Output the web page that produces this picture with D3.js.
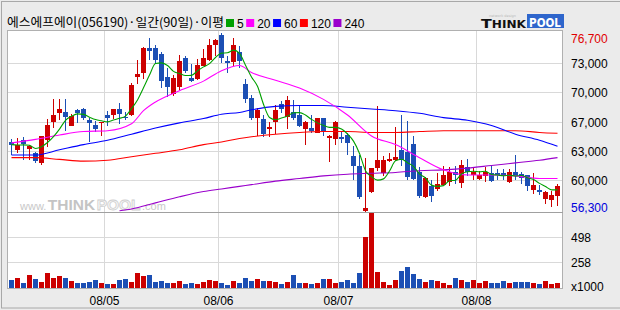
<!DOCTYPE html>
<html>
<head>
<meta charset="utf-8">
<script src="https://cdn.jsdelivr.net/npm/d3@7/dist/d3.min.js"></script>
<style>
body {margin: 0; background: #ebebeb;}
svg {display: block;}
</style>
</head>
<body>
<svg id="chart" width="620" height="310"></svg>
<script>
// daily candles, 90 trading days
const opens = [64200,63200,64400,63400,62900,61800,64500,66500,67500,67700,66100,67900,68000,66700,66200,66400,67300,67300,68000,67100,
  67300,71600,72100,75000,75000,74300,71700,69800,70500,73900,71600,71500,73000,73700,75300,76500,73500,73500,74500,70900,
  69300,67000,66800,65700,66500,68600,67000,67700,67300,65700,65800,65300,67000,64700,64500,64800,65000,62600,61400,56300,
  58400,61200,60600,62100,62100,63300,63000,64000,60800,57900,59100,58800,59300,59700,60800,59500,61300,60400,59900,60300,
  60600,60600,60600,59600,60800,60500,60400,58700,58700,57700,57500,58000];
const highs = [64500,64700,64800,63900,63000,64900,66900,69200,69100,69100,67400,68000,68100,67000,66600,66500,67800,68000,68700,67700,
  71000,73600,75100,76200,75400,74500,72700,71900,74200,74100,73200,73800,74900,76000,76000,76700,74100,76200,75200,71400,
  69600,68100,67300,66500,68400,68900,69500,69000,68400,66600,67300,67000,67000,65000,66600,65500,65200,63700,62700,62400,
  61200,68300,62600,62900,65900,67300,66600,64900,61300,60200,59800,60600,61400,61300,61400,62100,62200,61300,60900,61300,
  61400,61100,61100,61100,62700,60700,60400,60600,59300,58600,58600,59400];
const lows = [62800,63000,62300,62200,61900,61700,63700,65900,66800,65600,66100,66500,66900,64300,65500,65000,66200,67000,66400,66800,
  67300,71000,71600,73700,73300,70500,69500,69600,70300,72300,71200,71500,73000,73600,74200,73400,72300,73000,72800,68800,
  66900,65000,64900,64900,65200,67700,65800,66800,66000,64000,65400,65300,65000,62000,64000,64200,62800,59900,57800,56300,
  58400,61000,60400,62000,62100,61600,59900,59900,57900,57900,57400,58700,59300,59200,59500,59000,60400,60000,59900,59700,
  59700,60000,60000,59600,60000,59500,58700,58300,58200,57200,56800,57000];
const closes = [63900,63800,63900,63700,62000,64900,66200,67300,68000,67100,67200,67600,67000,66400,65700,66500,67000,68000,67400,67000,
  70800,72000,75000,74700,73600,71200,70500,71600,73500,72400,71300,73100,73900,75400,75900,73800,73300,75400,73500,69200,
  67000,67900,65100,65900,67900,68000,69000,67000,66000,66500,65500,67000,65500,64900,66500,64600,64100,61400,57800,56600,
  61200,62100,62100,62300,62500,62100,60100,60000,58000,60100,58000,59400,60400,60800,60400,61600,60700,60700,60400,60800,
  59700,60400,60300,60700,60300,60000,59100,59300,58500,58500,58100,59100];
// volume, x1000 shares
const volumes = [80,100,50,127,87,57,150,97,117,97,70,50,50,60,77,50,37,37,77,87,
  60,150,117,127,63,67,50,50,67,37,50,40,60,77,67,50,27,67,50,97,
  70,87,70,67,57,40,57,127,50,50,40,50,87,87,50,60,77,50,150,504,
  737,160,57,27,77,170,210,137,87,57,77,67,50,27,97,77,60,77,50,67,
  50,50,67,50,57,57,57,50,37,67,37,50];

// moving averages at sample days
const ma20Days = [0,4,8,12,16,20,22,24,28,32,35,38,40,44,48,52,56,60,64,68,72,76,80,84,88,91];
const ma20 = [64100,64500,65000,65400,65500,66300,67800,68800,70100,71200,72400,73000,72200,71300,70400,69100,67300,64900,63900,62400,61000,60400,60400,60300,60000,60000];
const maDays = [0,4,8,12,16,20,24,28,32,35,38,40,44,48,52,56,60,64,68,72,76,80,84,88,91];
const ma60 = [62700,62700,63300,63900,64400,65100,65800,66400,66900,67400,67600,67900,68300,68400,68400,68200,68000,67800,67500,67000,66700,66100,65100,64400,63700];
const ma120 = [62400,62400,62200,62000,62100,62500,62900,63300,63900,64200,64600,64800,65100,65300,65400,65400,65300,65300,65400,65500,65500,65500,65500,65300,65200];
const ma240Days = [18,20,24,28,32,35,38,40,44,48,52,56,60,64,68,72,76,80,84,88,91];
const ma240 = [56300,56500,57200,57900,58500,58800,59100,59300,59700,60000,60300,60500,60600,60700,60900,61000,61200,61500,61800,62100,62400];

const monthDays = [16, 35, 55, 78];
const monthLabels = ["08/05", "08/06", "08/07", "08/08"];
const priceGrid = [73280, 69910, 66540, 63170, 59800];
const priceGridLabels = ["73,000", "70,000", "67,000", "63,000", "60,000"];
const volGrid = [498, 258];
const volGridLabels = ["498", "258"];
const titleText = "에스에프에이(056190)·일간(90일)·이평";
const maNames = ["5", "20", "60", "120", "240"];
const maColors = ["#00a000", "#ff00ff", "#0000ff", "#ff0000", "#9a00cc"];

const upColor = "#cc0000", downColor = "#1c4fb4", gridColor = "#d9d9d9";
let svg = d3.select("#chart");
let plot = {left: 7.5, right: 562.5, top: 30.5, mid: 212.5, bottom: 288.5};

svg.append("rect").attr("x", 1.5).attr("y", 1.5).attr("width", 640).attr("height", 306.5)
    .attr("fill", "#ebebeb").attr("stroke", "#a8a8a8");
svg.append("rect").attr("x", plot.left).attr("y", plot.top)
    .attr("width", plot.right - plot.left).attr("height", plot.bottom - plot.top)
    .attr("fill", "#fff");

let x = d3.scaleBand().domain(d3.range(closes.length)).range([9, 561]);
let y = d3.scaleLinear().domain([56300, 76700]).range([210.7, 33.3]);
let yv = d3.scaleLinear().domain([0, 738]).range([288, 213]);
let cx = i => x(i) + 2.5;

// grid
let grid = svg.append("g").attr("stroke", gridColor).attr("shape-rendering", "crispEdges");
grid.selectAll(".hp").data(priceGrid).enter().append("line")
    .attr("x1", plot.left).attr("x2", plot.right)
    .attr("y1", d => Math.round(y(d)) + 0.5).attr("y2", d => Math.round(y(d)) + 0.5);
grid.selectAll(".hv").data(volGrid).enter().append("line")
    .attr("x1", plot.left).attr("x2", plot.right)
    .attr("y1", d => Math.round(yv(d)) + 0.5).attr("y2", d => Math.round(yv(d)) + 0.5);
grid.selectAll(".vm").data(monthDays).enter().append("line")
    .attr("x1", d => x(d) - 0.5).attr("x2", d => x(d) - 0.5)
    .attr("y1", plot.top).attr("y2", plot.bottom);

// watermark, one text per piece laid side by side
let wmParts = [
    {text: "www.", size: 11, bold: false, fill: "#c8c8c8"},
    {text: "THINK", size: 15.5, bold: true, fill: "#c4c4c4"},
    {text: "POOL", size: 15.5, bold: true, fill: "#f6f6f6"},
    {text: ".com", size: 11, bold: false, fill: "#c8c8c8"}
];
let wmg = svg.append("g").attr("font-family", "'Liberation Sans', Arial, sans-serif");
let wx = 20;
wmParts.forEach(p => {
    let t = wmg.append("text").attr("x", wx).attr("y", 210)
        .attr("font-size", p.size).attr("font-weight", p.bold ? "bold" : "normal")
        .attr("fill", p.fill)
        .attr("stroke", p.text === "POOL" ? "#cfcfcf" : null).attr("stroke-width", 0.8)
        .text(p.text);
    wx = wx + t.node().getComputedTextLength() + 1.5;
});

svg.append("clipPath").attr("id", "pricePane").append("rect")
    .attr("x", plot.left).attr("y", plot.top).attr("width", plot.right - plot.left).attr("height", plot.mid - plot.top);

// candles
let candles = svg.append("g").attr("clip-path", "url(#pricePane)");
let days = d3.range(closes.length);
candles.selectAll("line").data(days).enter().append("line")
    .attr("x1", i => cx(i)).attr("x2", i => cx(i))
    .attr("y1", i => Math.round(y(highs[i]))).attr("y2", i => Math.round(y(lows[i])) + 1)
    .attr("stroke", i => closes[i] >= opens[i] ? upColor : downColor);
candles.selectAll("rect").data(days).enter().append("rect")
    .attr("shape-rendering", "crispEdges")
    .attr("x", i => x(i)).attr("width", x.bandwidth() - 1)
    .attr("y", i => Math.round(y(Math.max(opens[i], closes[i]))))
    .attr("height", i => Math.max(1, Math.round(Math.abs(y(opens[i]) - y(closes[i])))))
    .attr("fill", i => closes[i] >= opens[i] ? upColor : downColor);

// moving average lines
let ma5 = closes.map((c, i) => d3.mean(closes.slice(Math.max(0, i - 4), i + 1)));
let smooth = d3.line().x(d => cx(d[0])).y(d => y(d[1])).curve(d3.curveMonotoneX);
let maSeries = [
    [d3.range(closes.length), ma5, maColors[0]],
    [ma20Days, ma20, maColors[1]],
    [maDays, ma60, maColors[2]],
    [maDays, ma120, maColors[3]],
    [ma240Days, ma240, maColors[4]]
];
let gLines = svg.append("g").attr("clip-path", "url(#pricePane)").attr("fill", "none").attr("stroke-width", 1.1);
maSeries.reverse().forEach(s => {
    gLines.append("path")
        .attr("d", smooth(s[0].map((d, k) => [d, s[1][k]])))
        .attr("stroke", s[2]);
});

// volume bars
svg.append("g").attr("shape-rendering", "crispEdges").selectAll("rect").data(days).enter().append("rect")
    .attr("x", i => x(i)).attr("width", x.bandwidth() - 1)
    .attr("y", i => Math.round(yv(volumes[i])))
    .attr("height", i => 288 - Math.round(yv(volumes[i])))
    .attr("fill", i => closes[i] >= opens[i] ? upColor : downColor);

// frame lines
let frame = svg.append("g").attr("stroke", "#b0b0b0").attr("fill", "none").attr("shape-rendering", "crispEdges");
frame.append("rect").attr("x", plot.left).attr("y", plot.top)
    .attr("width", plot.right - plot.left).attr("height", plot.bottom - plot.top);
frame.append("line").attr("x1", plot.left).attr("x2", plot.right).attr("y1", plot.mid).attr("y2", plot.mid)
    .attr("stroke", "#a0a0a0");

// right axis
let fmt = d3.format(",");
let axisText = svg.append("g").attr("font-family", "'Liberation Sans', Arial, sans-serif").attr("font-size", 12);
axisText.selectAll(".pl").data(priceGrid).enter().append("text")
    .attr("x", 571).attr("y", d => Math.round(y(d)) + 5)
    .text((d, k) => priceGridLabels[k]);
let maxP = d3.max(highs), minP = d3.min(lows);
axisText.append("text").attr("x", 571).attr("y", Math.max(y(maxP), 38) + 4.5).attr("fill", "#e00000").text(fmt(maxP));
axisText.append("text").attr("x", 571).attr("y", Math.min(y(minP), 207) + 4.5).attr("fill", "#0000dd").text(fmt(minP));
axisText.selectAll(".vl").data(volGrid).enter().append("text")
    .attr("x", 571).attr("y", d => Math.round(yv(d)) + 5)
    .text((d, k) => volGridLabels[k]);
axisText.append("text").attr("x", 571).attr("y", 290.5).text("x1000");
axisText.selectAll(".ml").data(monthDays).enter().append("text")
    .attr("x", d => x(d) - 0.5).attr("y", 305).attr("text-anchor", "middle")
    .text((d, k) => monthLabels[k]);

// title and legend
svg.append("text").attr("x", 7).attr("y", 27)
    .attr("font-family", "'Noto Sans CJK KR', sans-serif").attr("font-size", 12.5)
    .attr("textLength", 217).attr("lengthAdjust", "spacingAndGlyphs")
    .text(titleText);
let lx = 226;
maNames.forEach((name, k) => {
    svg.append("rect").attr("x", lx).attr("y", 19).attr("width", 8).attr("height", 8).attr("fill", maColors[k]);
    let t = svg.append("text").attr("x", lx + 11).attr("y", 27.5)
        .attr("font-family", "'Liberation Sans', Arial, sans-serif").attr("font-size", 12).text(name);
    lx = lx + 11 + t.node().getComputedTextLength() + 2.5;
});

// logo
let logo = svg.append("g").attr("font-family", "'DejaVu Sans', sans-serif").attr("font-weight", "bold");
logo.append("text").attr("x", 481).attr("y", 27.5).attr("fill", "#111")
    .attr("textLength", 45).attr("lengthAdjust", "spacingAndGlyphs")
    .html('<tspan font-size="13">T</tspan><tspan font-size="10">HINK</tspan>');
logo.append("rect").attr("x", 527).attr("y", 14).attr("width", 37).attr("height", 14).attr("fill", "#2f66cc");
logo.append("text").attr("x", 529).attr("y", 26.5).attr("fill", "#fff").attr("font-size", 13)
    .attr("textLength", 32).attr("lengthAdjust", "spacingAndGlyphs").text("POOL");
logo.append("text").attr("x", 489).attr("y", 16.5).attr("fill", "#bbb").attr("font-size", 3.5)
    .attr("font-weight", "normal").text("network  design");
</script>
</body>
</html>
